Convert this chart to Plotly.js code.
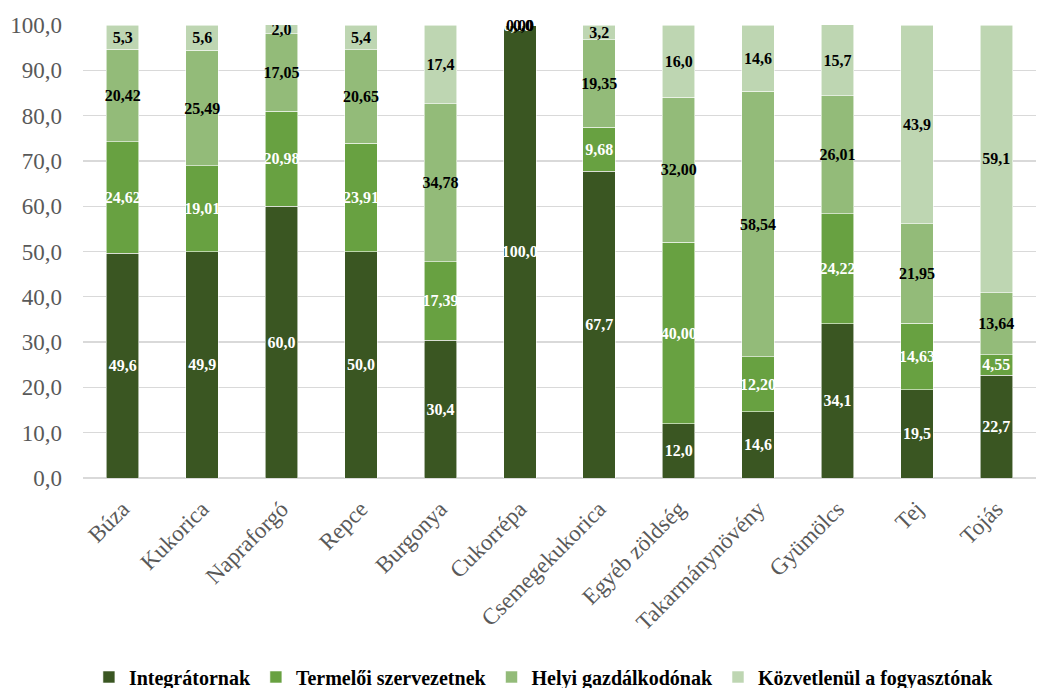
<!DOCTYPE html>
<html>
<head>
<meta charset="utf-8">
<script src="https://cdn.plot.ly/plotly-3.0.1.min.js"></script>
<style>
  html, body { margin: 0; padding: 0; background: #ffffff; }
  #chart { width: 1044px; height: 688px; }
</style>
</head>
<body>
<div id="chart"></div>
<script>
// Product categories
const categories = [
  'Búza', 'Kukorica', 'Napraforgó', 'Repce', 'Burgonya', 'Cukorrépa',
  'Csemegekukorica', 'Egyéb zöldség', 'Takarmánynövény', 'Gyümölcs', 'Tej', 'Tojás'
];

// Share of sales by buyer type (%)
const integratornak = [49.6, 49.9, 60.0, 50.0, 30.4, 100.0, 67.7, 12.0, 14.6, 34.1, 19.5, 22.7];
const termeloiSzervezetnek = [24.62, 19.01, 20.98, 23.91, 17.39, 0, 9.68, 40.00, 12.20, 24.22, 14.63, 4.55];
const helyiGazdalkodonak = [20.42, 25.49, 17.05, 20.65, 34.78, 0, 19.35, 32.00, 58.54, 26.01, 21.95, 13.64];
const kozvetlenulFogyasztonak = [5.3, 5.6, 2.0, 5.4, 17.4, 0, 3.2, 16.0, 14.6, 15.7, 43.9, 59.1];

const seriesNames = ['Integrátornak', 'Termelői szervezetnek', 'Helyi gazdálkodónak', 'Közvetlenül a fogyasztónak'];
const seriesValues = [integratornak, termeloiSzervezetnek, helyiGazdalkodonak, kozvetlenulFogyasztonak];
const seriesColors = ['#3a5622', '#68a141', '#93bb79', '#bed6b2'];
const labelColors = ['#ffffff', '#ffffff', '#000000', '#000000'];
const labelDecimals = [1, 2, 2, 1];

const serif = 'Liberation Serif';

const traces = seriesNames.map((name, i) => ({
  type: 'bar',
  name: name,
  x: categories,
  y: seriesValues[i],
  marker: {
    color: seriesColors[i],
    line: { color: 'rgba(255,255,255,0.7)', width: 0.8 }
  },
  texttemplate: '%{y:.' + labelDecimals[i] + 'f}',
  textposition: 'inside',
  insidetextanchor: 'middle',
  constraintext: 'none',
  textangle: 0,
  insidetextfont: { family: serif, size: 16, color: labelColors[i], weight: 'bold' },
  hoverinfo: 'x+y+name'
}));

// Zero-height segments still carry a label at the top of their stack;
// consecutive zero labels sit on the same spot, nudged a little apart
const zeroLabels = [];
categories.forEach((cat, j) => {
  let base = 0;
  let nZero = 0;
  seriesValues.forEach((vals, i) => {
    if (vals[j] === 0) {
      zeroLabels.push({
        x: cat, y: base, xref: 'x', yref: 'y',
        xshift: (nZero - 1) * 3,
        text: vals[j].toFixed(labelDecimals[i]).replace('.', ','),
        showarrow: false,
        font: { family: serif, size: 16, color: labelColors[i], weight: 'bold' }
      });
      nZero += 1;
    }
    base += vals[j];
  });
});

const layout = {
  width: 1044,
  height: 688,
  barmode: 'stack',
  bargap: 0.59,
  separators: ', ',
  paper_bgcolor: '#ffffff',
  plot_bgcolor: '#ffffff',
  margin: { l: 83, r: 8, t: 25, b: 210 },
  font: { family: serif, color: '#595959' },
  annotations: zeroLabels,
  xaxis: {
    type: 'category',
    automargin: false,
    tickangle: -45,
    tickfont: { family: serif, size: 23, color: '#595959' },
    showgrid: false,
    showline: false,
    zeroline: false,
    ticks: '',
    ticklabelstandoff: 12
  },
  yaxis: {
    automargin: false,
    range: [0, 100],
    dtick: 10,
    tickformat: '.1f',
    tickfont: { family: serif, size: 23, color: '#595959' },
    gridcolor: '#d9d9d9',
    gridwidth: 1.4,
    zeroline: true,
    zerolinecolor: '#d9d9d9',
    zerolinewidth: 1.4,
    showline: false,
    ticks: '',
    ticklabelstandoff: 20
  },
  legend: {
    orientation: 'h',
    xref: 'container',
    yref: 'container',
    x: 0.521,
    xanchor: 'center',
    y: 0.016,
    yanchor: 'middle',
    font: { family: serif, size: 20, color: '#000000', weight: 'bold' },
    itemwidth: 30,
    traceorder: 'normal'
  },
  showlegend: true
};

Plotly.newPlot('chart', traces, layout, { displayModeBar: false, staticPlot: true });
</script>
</body>
</html>
